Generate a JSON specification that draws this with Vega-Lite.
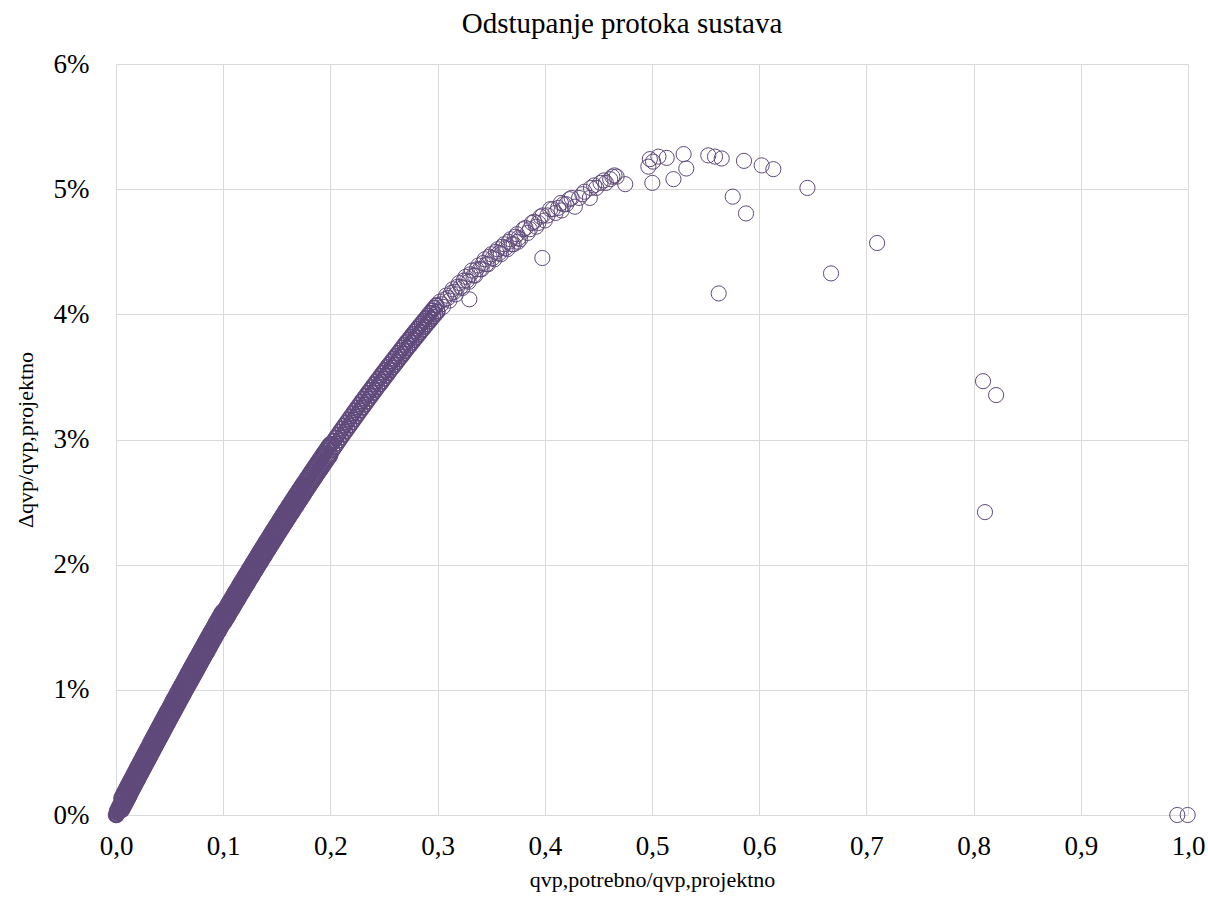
{
"$schema": "https://vega.github.io/schema/vega-lite/v6.json",
"width": 1072, "height": 751,
"autosize": {"type": "none"},
"padding": {"left": 116, "top": 64, "right": 20, "bottom": 82},
"background": "white",
"title": {"text": "Odstupanje protoka sustava", "font": "Liberation Serif", "fontSize": 29, "fontWeight": "normal", "color": "black", "anchor": "middle", "frame": "group", "dx": -30, "baseline": "alphabetic", "offset": -12},
"config": {
 "view": {"stroke": null},
 "axis": {"domain": false, "ticks": false, "grid": true, "gridColor": "#d9d9d9", "gridWidth": 1, "labelFont": "Liberation Serif", "labelFontSize": 27, "labelColor": "black", "labelFlush": false, "titleFont": "Liberation Serif", "titleFontSize": 22, "titleFontWeight": "normal", "titleColor": "black", "labelOverlap": false}
},
"datasets": {
"dense": [
{"x":0,"y":0},{"x":0.0005,"y":0},{"x":0.001,"y":0.00032},{"x":0.0015,"y":0.00017},{"x":0.002,"y":0.00048},{"x":0.0025,"y":0.00034},{"x":0.003,"y":0.00065},{"x":0.0035,"y":0.0005},{"x":0.004,"y":0.00081},{"x":0.0045,"y":0.00067},
{"x":0.005,"y":0.00133},{"x":0.0055,"y":0.00041},{"x":0.006,"y":0.00149},{"x":0.0065,"y":0.00058},{"x":0.007,"y":0.00166},{"x":0.0075,"y":0.00074},{"x":0.008,"y":0.00182},{"x":0.0085,"y":0.00091},{"x":0.009,"y":0.00199},{"x":0.0095,"y":0.00107},
{"x":0.01,"y":0.00215},{"x":0.0105,"y":0.00123},{"x":0.011,"y":0.00232},{"x":0.0115,"y":0.0014},{"x":0.012,"y":0.00248},{"x":0.0125,"y":0.00156},{"x":0.013,"y":0.00265},{"x":0.0135,"y":0.00173},{"x":0.014,"y":0.00281},{"x":0.0145,"y":0.00189},
{"x":0.015,"y":0.00297},{"x":0.0155,"y":0.00206},{"x":0.016,"y":0.00314},{"x":0.0165,"y":0.00222},{"x":0.017,"y":0.0033},{"x":0.0175,"y":0.00238},{"x":0.018,"y":0.00346},{"x":0.0185,"y":0.00255},{"x":0.019,"y":0.00363},{"x":0.0195,"y":0.00271},
{"x":0.02,"y":0.00379},{"x":0.0205,"y":0.00287},{"x":0.021,"y":0.00395},{"x":0.0215,"y":0.00303},{"x":0.022,"y":0.00412},{"x":0.0225,"y":0.0032},{"x":0.023,"y":0.00428},{"x":0.0235,"y":0.00336},{"x":0.024,"y":0.00444},{"x":0.0245,"y":0.00352},
{"x":0.025,"y":0.0046},{"x":0.0255,"y":0.00368},{"x":0.026,"y":0.00477},{"x":0.0265,"y":0.00385},{"x":0.027,"y":0.00493},{"x":0.0275,"y":0.00401},{"x":0.028,"y":0.00509},{"x":0.0285,"y":0.00417},{"x":0.029,"y":0.00525},{"x":0.0295,"y":0.00433},
{"x":0.03,"y":0.00541},{"x":0.0305,"y":0.00449},{"x":0.031,"y":0.00557},{"x":0.0315,"y":0.00465},{"x":0.032,"y":0.00574},{"x":0.0325,"y":0.00482},{"x":0.033,"y":0.0059},{"x":0.0335,"y":0.00498},{"x":0.034,"y":0.00606},{"x":0.0345,"y":0.00514},
{"x":0.035,"y":0.00622},{"x":0.0355,"y":0.0053},{"x":0.036,"y":0.00638},{"x":0.0365,"y":0.00546},{"x":0.037,"y":0.00654},{"x":0.0375,"y":0.00562},{"x":0.038,"y":0.0067},{"x":0.0385,"y":0.00578},{"x":0.039,"y":0.00686},{"x":0.0395,"y":0.00594},
{"x":0.04,"y":0.00702},{"x":0.0405,"y":0.0061},{"x":0.041,"y":0.00718},{"x":0.0415,"y":0.00626},{"x":0.042,"y":0.00734},{"x":0.0425,"y":0.00642},{"x":0.043,"y":0.0075},{"x":0.0435,"y":0.00658},{"x":0.044,"y":0.00766},{"x":0.0445,"y":0.00674},
{"x":0.045,"y":0.00782},{"x":0.0455,"y":0.0069},{"x":0.046,"y":0.00798},{"x":0.0465,"y":0.00706},{"x":0.047,"y":0.00814},{"x":0.0475,"y":0.00722},{"x":0.048,"y":0.0083},{"x":0.0485,"y":0.00737},{"x":0.049,"y":0.00845},{"x":0.0495,"y":0.00753},
{"x":0.05,"y":0.00861},{"x":0.0505,"y":0.00769},{"x":0.051,"y":0.00877},{"x":0.0515,"y":0.00785},{"x":0.052,"y":0.00893},{"x":0.0525,"y":0.00801},{"x":0.053,"y":0.00909},{"x":0.0535,"y":0.00817},{"x":0.054,"y":0.00925},{"x":0.0545,"y":0.00832},
{"x":0.055,"y":0.0094},{"x":0.0555,"y":0.00848},{"x":0.056,"y":0.00956},{"x":0.0565,"y":0.00864},{"x":0.057,"y":0.00972},{"x":0.0575,"y":0.0088},{"x":0.058,"y":0.00988},{"x":0.0585,"y":0.00895},{"x":0.059,"y":0.01003},{"x":0.0595,"y":0.00911},
{"x":0.06,"y":0.01019},{"x":0.0605,"y":0.00927},{"x":0.061,"y":0.01035},{"x":0.0615,"y":0.00943},{"x":0.062,"y":0.0105},{"x":0.0625,"y":0.00958},{"x":0.063,"y":0.01066},{"x":0.0635,"y":0.00974},{"x":0.064,"y":0.01082},{"x":0.0645,"y":0.0099},
{"x":0.065,"y":0.01097},{"x":0.0655,"y":0.01005},{"x":0.066,"y":0.01113},{"x":0.0665,"y":0.01021},{"x":0.067,"y":0.01129},{"x":0.0675,"y":0.01036},{"x":0.068,"y":0.01144},{"x":0.0685,"y":0.01052},{"x":0.069,"y":0.0116},{"x":0.0695,"y":0.01067},
{"x":0.07,"y":0.01175},{"x":0.0705,"y":0.01083},{"x":0.071,"y":0.01191},{"x":0.0715,"y":0.01099},{"x":0.072,"y":0.01206},{"x":0.0725,"y":0.01114},{"x":0.073,"y":0.01222},{"x":0.0735,"y":0.0113},{"x":0.074,"y":0.01237},{"x":0.0745,"y":0.01145},
{"x":0.075,"y":0.01253},{"x":0.0755,"y":0.0116},{"x":0.076,"y":0.01268},{"x":0.0765,"y":0.01176},{"x":0.077,"y":0.01284},{"x":0.0775,"y":0.01191},{"x":0.078,"y":0.01299},{"x":0.0785,"y":0.01207},{"x":0.079,"y":0.01315},{"x":0.0795,"y":0.01222},
{"x":0.08,"y":0.0133},{"x":0.0805,"y":0.01238},{"x":0.081,"y":0.01345},{"x":0.0815,"y":0.01253},{"x":0.082,"y":0.01361},{"x":0.0825,"y":0.01268},{"x":0.083,"y":0.01376},{"x":0.0835,"y":0.01284},{"x":0.084,"y":0.01391},{"x":0.0845,"y":0.01299},
{"x":0.085,"y":0.01407},{"x":0.0855,"y":0.01314},{"x":0.086,"y":0.01422},{"x":0.0865,"y":0.0133},{"x":0.087,"y":0.01437},{"x":0.0875,"y":0.01345},{"x":0.088,"y":0.01453},{"x":0.0885,"y":0.0136},{"x":0.089,"y":0.01468},{"x":0.0895,"y":0.01376},
{"x":0.09,"y":0.01483},{"x":0.0905,"y":0.01391},{"x":0.091,"y":0.01498},{"x":0.0915,"y":0.01406},{"x":0.092,"y":0.01514},{"x":0.0925,"y":0.01421},{"x":0.093,"y":0.01529},{"x":0.0935,"y":0.01436},{"x":0.094,"y":0.01544},{"x":0.0945,"y":0.01452},
{"x":0.095,"y":0.01559},{"x":0.0955,"y":0.01467},{"x":0.096,"y":0.01574},{"x":0.0965,"y":0.01482},{"x":0.097,"y":0.0159},{"x":0.0975,"y":0.01497},{"x":0.098,"y":0.01605},{"x":0.0985,"y":0.01512},{"x":0.099,"y":0.0162},{"x":0.0995,"y":0.01527},
{"x":0.1,"y":0.01625},
{"x":0.1005,"y":0.01623},{"x":0.101,"y":0.01541},{"x":0.1015,"y":0.01638},{"x":0.102,"y":0.01555},{"x":0.1025,"y":0.01652},{"x":0.103,"y":0.0157},{"x":0.1035,"y":0.01667},{"x":0.104,"y":0.01584},{"x":0.1045,"y":0.01682},{"x":0.105,"y":0.01599},
{"x":0.1055,"y":0.01696},{"x":0.106,"y":0.01613},{"x":0.1065,"y":0.01711},{"x":0.107,"y":0.01628},{"x":0.1075,"y":0.01725},{"x":0.108,"y":0.01642},{"x":0.1085,"y":0.01739},{"x":0.109,"y":0.01657},{"x":0.1095,"y":0.01754},{"x":0.11,"y":0.01671},
{"x":0.1105,"y":0.01768},{"x":0.111,"y":0.01685},{"x":0.1115,"y":0.01783},{"x":0.112,"y":0.017},{"x":0.1125,"y":0.01797},{"x":0.113,"y":0.01714},{"x":0.1135,"y":0.01811},{"x":0.114,"y":0.01728},{"x":0.1145,"y":0.01826},{"x":0.115,"y":0.01743},
{"x":0.1155,"y":0.0184},{"x":0.116,"y":0.01757},{"x":0.1165,"y":0.01854},{"x":0.117,"y":0.01771},{"x":0.1175,"y":0.01868},{"x":0.118,"y":0.01785},{"x":0.1185,"y":0.01883},{"x":0.119,"y":0.018},{"x":0.1195,"y":0.01897},{"x":0.12,"y":0.01814},
{"x":0.1205,"y":0.01911},{"x":0.121,"y":0.01828},{"x":0.1215,"y":0.01925},{"x":0.122,"y":0.01842},{"x":0.1225,"y":0.01939},{"x":0.123,"y":0.01856},{"x":0.1235,"y":0.01953},{"x":0.124,"y":0.0187},{"x":0.1245,"y":0.01967},{"x":0.125,"y":0.01884},
{"x":0.1255,"y":0.01981},{"x":0.126,"y":0.01898},{"x":0.1265,"y":0.01995},{"x":0.127,"y":0.01912},{"x":0.1275,"y":0.02009},{"x":0.128,"y":0.01926},{"x":0.1285,"y":0.02023},{"x":0.129,"y":0.0194},{"x":0.1295,"y":0.02037},{"x":0.13,"y":0.01954},
{"x":0.1305,"y":0.02051},{"x":0.131,"y":0.01968},{"x":0.1315,"y":0.02065},{"x":0.132,"y":0.01982},{"x":0.1325,"y":0.02079},{"x":0.133,"y":0.01996},{"x":0.1335,"y":0.02093},{"x":0.134,"y":0.0201},{"x":0.1345,"y":0.02107},{"x":0.135,"y":0.02024},
{"x":0.1355,"y":0.02121},{"x":0.136,"y":0.02038},{"x":0.1365,"y":0.02135},{"x":0.137,"y":0.02052},{"x":0.1375,"y":0.02148},{"x":0.138,"y":0.02065},{"x":0.1385,"y":0.02162},{"x":0.139,"y":0.02079},{"x":0.1395,"y":0.02176},{"x":0.14,"y":0.02093},
{"x":0.1405,"y":0.0219},{"x":0.141,"y":0.02107},{"x":0.1415,"y":0.02203},{"x":0.142,"y":0.0212},{"x":0.1425,"y":0.02217},{"x":0.143,"y":0.02134},{"x":0.1435,"y":0.02231},{"x":0.144,"y":0.02148},{"x":0.1445,"y":0.02244},{"x":0.145,"y":0.02161},
{"x":0.1455,"y":0.02258},{"x":0.146,"y":0.02175},{"x":0.1465,"y":0.02272},{"x":0.147,"y":0.02188},{"x":0.1475,"y":0.02285},{"x":0.148,"y":0.02202},{"x":0.1485,"y":0.02299},{"x":0.149,"y":0.02215},{"x":0.1495,"y":0.02312},{"x":0.15,"y":0.02229},
{"x":0.1505,"y":0.02326},{"x":0.151,"y":0.02243},{"x":0.1515,"y":0.02339},{"x":0.152,"y":0.02256},{"x":0.1525,"y":0.02353},{"x":0.153,"y":0.02269},{"x":0.1535,"y":0.02366},{"x":0.154,"y":0.02283},{"x":0.1545,"y":0.0238},{"x":0.155,"y":0.02296},
{"x":0.1555,"y":0.02393},{"x":0.156,"y":0.0231},{"x":0.1565,"y":0.02406},{"x":0.157,"y":0.02323},{"x":0.1575,"y":0.0242},{"x":0.158,"y":0.02336},{"x":0.1585,"y":0.02433},{"x":0.159,"y":0.0235},{"x":0.1595,"y":0.02446},{"x":0.16,"y":0.02363},
{"x":0.1605,"y":0.0246},{"x":0.161,"y":0.02376},{"x":0.1615,"y":0.02473},{"x":0.162,"y":0.0239},{"x":0.1625,"y":0.02486},{"x":0.163,"y":0.02403},{"x":0.1635,"y":0.02499},{"x":0.164,"y":0.02416},{"x":0.1645,"y":0.02513},{"x":0.165,"y":0.02429},
{"x":0.1655,"y":0.02526},{"x":0.166,"y":0.02442},{"x":0.1665,"y":0.02539},{"x":0.167,"y":0.02456},{"x":0.1675,"y":0.02552},{"x":0.168,"y":0.02469},{"x":0.1685,"y":0.02565},{"x":0.169,"y":0.02482},{"x":0.1695,"y":0.02578},{"x":0.17,"y":0.02495},
{"x":0.1705,"y":0.02591},{"x":0.171,"y":0.02508},{"x":0.1715,"y":0.02604},{"x":0.172,"y":0.02521},{"x":0.1725,"y":0.02617},{"x":0.173,"y":0.02534},{"x":0.1735,"y":0.0263},{"x":0.174,"y":0.02547},{"x":0.1745,"y":0.02643},{"x":0.175,"y":0.0256}
],
"mid": [
{"x":0.1755,"y":0.02656},{"x":0.176,"y":0.02573},{"x":0.1765,"y":0.02669},{"x":0.177,"y":0.02586},{"x":0.1775,"y":0.02682},{"x":0.178,"y":0.02599},{"x":0.1785,"y":0.02695},{"x":0.179,"y":0.02612},{"x":0.1795,"y":0.02708},{"x":0.18,"y":0.02624},
{"x":0.1805,"y":0.02721},{"x":0.181,"y":0.02637},{"x":0.1815,"y":0.02734},{"x":0.182,"y":0.0265},{"x":0.1825,"y":0.02746},{"x":0.183,"y":0.02663},{"x":0.1835,"y":0.02759},{"x":0.184,"y":0.02676},{"x":0.1845,"y":0.02772},{"x":0.185,"y":0.02688},
{"x":0.1855,"y":0.02785},{"x":0.186,"y":0.02701},{"x":0.1865,"y":0.02797},{"x":0.187,"y":0.02714},{"x":0.1875,"y":0.0281},{"x":0.188,"y":0.02727},{"x":0.1885,"y":0.02823},{"x":0.189,"y":0.02739},{"x":0.1895,"y":0.02835},{"x":0.19,"y":0.02752},
{"x":0.1905,"y":0.02848},{"x":0.191,"y":0.02764},{"x":0.1915,"y":0.02861},{"x":0.192,"y":0.02777},{"x":0.1925,"y":0.02873},{"x":0.193,"y":0.0279},{"x":0.1935,"y":0.02886},{"x":0.194,"y":0.02802},{"x":0.1945,"y":0.02898},{"x":0.195,"y":0.02815},
{"x":0.1955,"y":0.02911},{"x":0.196,"y":0.02827},{"x":0.1965,"y":0.02923},{"x":0.197,"y":0.0284},{"x":0.1975,"y":0.02936},{"x":0.198,"y":0.02852},{"x":0.1985,"y":0.02948},{"x":0.199,"y":0.02865},{"x":0.1995,"y":0.02961},{"x":0.2,"y":0.02877},
{"x":0.201,"y":0.02964},{"x":0.202,"y":0.02917},{"x":0.203,"y":0.02989},{"x":0.204,"y":0.02941},{"x":0.205,"y":0.03014},{"x":0.206,"y":0.02966},{"x":0.207,"y":0.03038},{"x":0.208,"y":0.02991},{"x":0.209,"y":0.03063},{"x":0.21,"y":0.03015},
{"x":0.211,"y":0.03087},{"x":0.212,"y":0.03039},{"x":0.213,"y":0.03111},{"x":0.214,"y":0.03064},{"x":0.215,"y":0.03136},{"x":0.216,"y":0.03088},{"x":0.217,"y":0.0316},{"x":0.218,"y":0.03112},{"x":0.219,"y":0.03184},{"x":0.22,"y":0.03136},
{"x":0.221,"y":0.03208},{"x":0.222,"y":0.0316},{"x":0.223,"y":0.03232},{"x":0.224,"y":0.03184},{"x":0.225,"y":0.03255},{"x":0.226,"y":0.03207},{"x":0.227,"y":0.03279},{"x":0.228,"y":0.03231},{"x":0.229,"y":0.03303},{"x":0.23,"y":0.03254},
{"x":0.231,"y":0.03326},{"x":0.232,"y":0.03278},{"x":0.233,"y":0.0335},{"x":0.234,"y":0.03301},{"x":0.235,"y":0.03373},{"x":0.236,"y":0.03325},{"x":0.237,"y":0.03396},{"x":0.238,"y":0.03348},{"x":0.239,"y":0.03419},{"x":0.24,"y":0.03371},
{"x":0.241,"y":0.03442},{"x":0.242,"y":0.03394},{"x":0.243,"y":0.03465},{"x":0.244,"y":0.03417},{"x":0.245,"y":0.03488},{"x":0.246,"y":0.0344},{"x":0.247,"y":0.03511},{"x":0.248,"y":0.03462},{"x":0.249,"y":0.03534},{"x":0.25,"y":0.03485},
{"x":0.251,"y":0.03556},{"x":0.252,"y":0.03508},{"x":0.253,"y":0.03579},{"x":0.254,"y":0.0353},{"x":0.255,"y":0.03601},{"x":0.256,"y":0.03553},{"x":0.257,"y":0.03624},{"x":0.258,"y":0.03575},{"x":0.259,"y":0.03646},{"x":0.26,"y":0.03597},
{"x":0.261,"y":0.03668},{"x":0.262,"y":0.03619},{"x":0.263,"y":0.0369},{"x":0.264,"y":0.03641},{"x":0.265,"y":0.03712},{"x":0.266,"y":0.03663},{"x":0.267,"y":0.03734},{"x":0.268,"y":0.03685},{"x":0.269,"y":0.03756},{"x":0.27,"y":0.03707},
{"x":0.271,"y":0.03778},{"x":0.272,"y":0.03729},{"x":0.273,"y":0.03799},{"x":0.274,"y":0.0375},{"x":0.275,"y":0.03821},{"x":0.276,"y":0.03772},{"x":0.277,"y":0.03842},{"x":0.278,"y":0.03793},{"x":0.279,"y":0.03864},{"x":0.28,"y":0.03814},
{"x":0.281,"y":0.03885},{"x":0.282,"y":0.03836},{"x":0.283,"y":0.03906},{"x":0.284,"y":0.03857},{"x":0.285,"y":0.03927},{"x":0.286,"y":0.03878},{"x":0.287,"y":0.03948},{"x":0.288,"y":0.03899},{"x":0.289,"y":0.03969},{"x":0.29,"y":0.0392},
{"x":0.291,"y":0.0399},{"x":0.292,"y":0.03941},{"x":0.293,"y":0.04011},{"x":0.294,"y":0.03961},{"x":0.295,"y":0.04032},{"x":0.296,"y":0.03982},{"x":0.297,"y":0.04052},{"x":0.298,"y":0.04003},{"x":0.299,"y":0.04073},{"x":0.3,"y":0.04023}
],
"sparse": [
{"x":0.302,"y":0.041},{"x":0.305,"y":0.0406},{"x":0.308,"y":0.0415},{"x":0.311,"y":0.0411},{"x":0.314,"y":0.042},{"x":0.317,"y":0.0416},{"x":0.32,"y":0.0425},{"x":0.323,"y":0.0421},{"x":0.326,"y":0.043},{"x":0.329,"y":0.0426},
{"x":0.332,"y":0.0435},{"x":0.335,"y":0.0431},{"x":0.338,"y":0.0439},{"x":0.341,"y":0.0436},{"x":0.344,"y":0.0444},{"x":0.347,"y":0.044},{"x":0.35,"y":0.0448},{"x":0.353,"y":0.0444},{"x":0.356,"y":0.0452},{"x":0.359,"y":0.0448},
{"x":0.362,"y":0.0456},{"x":0.365,"y":0.0452},{"x":0.368,"y":0.046},{"x":0.371,"y":0.0456},{"x":0.374,"y":0.0464},{"x":0.377,"y":0.046},{"x":0.38,"y":0.0468},{"x":0.384,"y":0.0465},{"x":0.388,"y":0.0473},{"x":0.392,"y":0.047},
{"x":0.396,"y":0.0478},{"x":0.4,"y":0.0475},{"x":0.405,"y":0.0484},{"x":0.41,"y":0.0481},{"x":0.415,"y":0.0489},{"x":0.42,"y":0.0488},{"x":0.425,"y":0.0493},{"x":0.432,"y":0.0493},{"x":0.437,"y":0.0498},{"x":0.443,"y":0.0501},
{"x":0.448,"y":0.0501},{"x":0.452,"y":0.0505},{"x":0.457,"y":0.0505},{"x":0.461,"y":0.0508},{"x":0.465,"y":0.0511},{"x":0.467,"y":0.051},
{"x":0.3035,"y":0.0408},{"x":0.3065,"y":0.0412},{"x":0.3095,"y":0.0413},{"x":0.3125,"y":0.0417},{"x":0.3155,"y":0.0418},{"x":0.3185,"y":0.0422},{"x":0.3215,"y":0.0422},{"x":0.3245,"y":0.0427},{"x":0.3275,"y":0.0427},{"x":0.3305,"y":0.0432},
{"x":0.3335,"y":0.0431},{"x":0.3365,"y":0.0436},{"x":0.3395,"y":0.0436},{"x":0.3425,"y":0.0441},{"x":0.3455,"y":0.044},{"x":0.3485,"y":0.0446},{"x":0.3515,"y":0.0445},{"x":0.3545,"y":0.045},{"x":0.3575,"y":0.0449},{"x":0.3605,"y":0.0454},
{"x":0.3635,"y":0.0453},{"x":0.3665,"y":0.0458},{"x":0.3695,"y":0.0456},{"x":0.3725,"y":0.0462},{"x":0.3755,"y":0.0461},{"x":0.382,"y":0.0469},{"x":0.386,"y":0.0468},{"x":0.39,"y":0.0474},{"x":0.394,"y":0.0473},{"x":0.398,"y":0.0479},
{"x":0.4025,"y":0.0479},{"x":0.4075,"y":0.0484},{"x":0.4125,"y":0.0485},{"x":0.4175,"y":0.0488},{"x":0.423,"y":0.0492},{"x":0.435,"y":0.0496},{"x":0.446,"y":0.0503},{"x":0.455,"y":0.0507},{"x":0.463,"y":0.051},
{"x":0.3296,"y":0.0412},{"x":0.3977,"y":0.0445},{"x":0.375,"y":0.0458},{"x":0.4157,"y":0.0483},{"x":0.428,"y":0.0486},{"x":0.442,"y":0.0493},{"x":0.475,"y":0.0504},{"x":0.5003,"y":0.0505},{"x":0.52,"y":0.0508},{"x":0.532,"y":0.05165},
{"x":0.5295,"y":0.0528},{"x":0.4966,"y":0.0518},{"x":0.501,"y":0.0522},{"x":0.506,"y":0.0526},{"x":0.5137,"y":0.0525},{"x":0.498,"y":0.0524},{"x":0.5525,"y":0.0527},{"x":0.5588,"y":0.0526},{"x":0.565,"y":0.05245},{"x":0.5858,"y":0.05226},
{"x":0.6023,"y":0.0519},{"x":0.6132,"y":0.0516},{"x":0.645,"y":0.0501},{"x":0.5753,"y":0.0494},{"x":0.5877,"y":0.04806},{"x":0.5622,"y":0.04167},{"x":0.667,"y":0.04327},{"x":0.71,"y":0.0457},{"x":0.8088,"y":0.03466},{"x":0.821,"y":0.03355},
{"x":0.8106,"y":0.0242},{"x":0.99,"y":0},{"x":0.9997,"y":0}
]
},
"encoding": {
 "x": {"field": "x", "type": "quantitative", "scale": {"domain": [0, 1], "nice": false, "zero": false},
  "axis": {"values": [0, 0.1, 0.2, 0.3, 0.4, 0.5, 0.6, 0.7, 0.8, 0.9, 1], "labelExpr": "replace(format(datum.value, '.1f'), '.', ',')", "labelPadding": 18, "title": "qvp,potrebno/qvp,projektno", "titleY": 71, "titleBaseline": "alphabetic"}},
 "y": {"field": "y", "type": "quantitative", "scale": {"domain": [0, 0.06], "nice": false},
  "axis": {"values": [0, 0.01, 0.02, 0.03, 0.04, 0.05, 0.06], "format": ".0%", "labelPadding": 27, "title": "Δqvp/qvp,projektno", "titleX": -84, "titleBaseline": "alphabetic"}}
},
"layer": [
 {"data": {"name": "dense"}, "mark": {"type": "point", "shape": "circle", "filled": false, "stroke": "#604a7b", "strokeWidth": 2.4, "size": 200, "opacity": 1}},
 {"data": {"name": "mid"}, "mark": {"type": "point", "shape": "circle", "filled": false, "stroke": "#604a7b", "strokeWidth": 1.6, "size": 215, "opacity": 1}},
 {"data": {"name": "sparse"}, "mark": {"type": "point", "shape": "circle", "filled": false, "stroke": "#604a7b", "strokeWidth": 1, "size": 230, "opacity": 1}}
]
}
